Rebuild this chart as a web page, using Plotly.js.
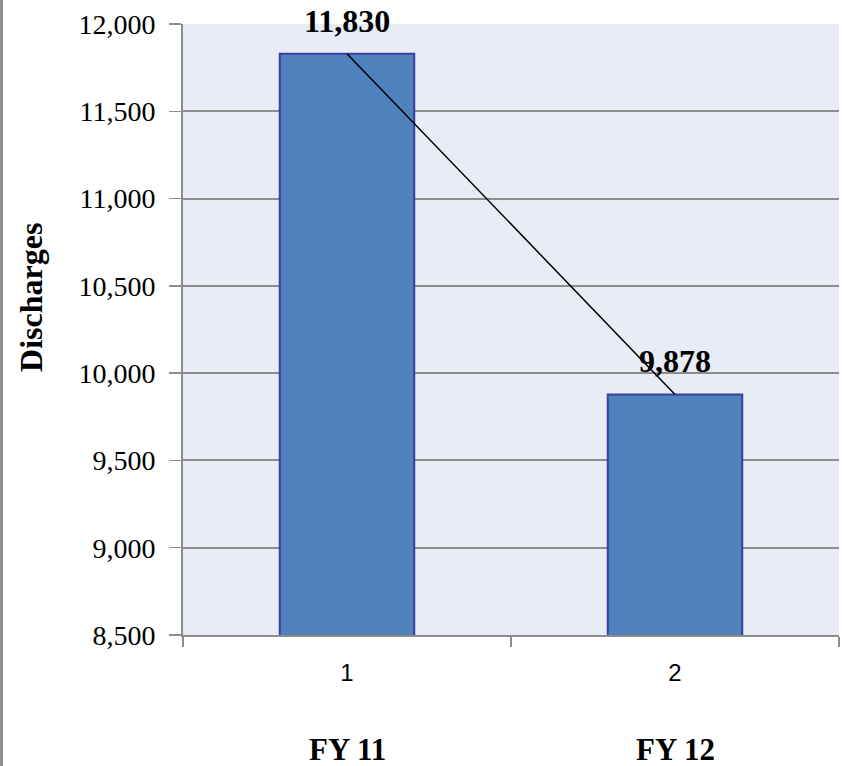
<!DOCTYPE html>
<html>
<head>
<meta charset="utf-8">
<script src="https://cdn.plot.ly/plotly-3.0.1.min.js"></script>
<style>
  html, body { margin: 0; padding: 0; background: #fff; }
  #wrap { position: relative; width: 842px; height: 766px; }
  #chart { width: 842px; height: 766px; }
  #edge { position: absolute; left: 0; top: 0; width: 3px; height: 766px; background: #8f8f8f; z-index: 5; }
</style>
</head>
<body>
<div id="wrap">
  <div id="chart"></div>
  <div id="edge"></div>
</div>
<script>
// ---- data ----
const categories = ["1", "2"];
const fiscalYears = ["FY 11", "FY 12"];
const discharges = [11830, 9878];
const yTickVals = [8500, 9000, 9500, 10000, 10500, 11000, 11500, 12000];

const serif = "Liberation Serif, Times New Roman, serif";

const bars = {
  type: "bar",
  x: categories,
  y: discharges,
  width: 0.41,
  marker: { color: "#4F81BD", line: { color: "#3A3FA0", width: 2 } },
  hoverinfo: "x+y",
  showlegend: false
};

const trend = {
  type: "scatter",
  mode: "lines",
  x: categories,
  y: discharges,
  line: { color: "#000000", width: 1.5 },
  hoverinfo: "skip",
  showlegend: false
};

const annotations = [];
categories.forEach((c, i) => {
  annotations.push({
    x: i, y: discharges[i], xref: "x", yref: "y",
    text: "<b>" + discharges[i].toLocaleString("en-US") + "</b>",
    showarrow: false, xanchor: "center", yanchor: "bottom", yshift: 13,
    font: { family: serif, size: 32, color: "#000" }
  });
  annotations.push({
    x: i, y: -0.188, xref: "x", yref: "paper",
    text: "<b>" + fiscalYears[i] + "</b>",
    showarrow: false, xanchor: "center", yanchor: "middle",
    font: { family: serif, size: 31, color: "#000" }
  });
});
annotations.push({
  x: -0.232, y: 0.553, xref: "paper", yref: "paper",
  text: "<b>Discharges</b>", textangle: -90,
  showarrow: false, xanchor: "center", yanchor: "middle",
  font: { family: serif, size: 32, color: "#000" }
});

const layout = {
  width: 842, height: 766,
  margin: { l: 183, r: 3, t: 24, b: 131 },
  paper_bgcolor: "#ffffff",
  plot_bgcolor: "#E8ECF4",
  xaxis: {
    type: "category",
    range: [-0.5, 1.5],
    tickson: "boundaries",
    ticks: "outside", ticklen: 10, tickwidth: 1.5, tickcolor: "#8c8c8c",
    showline: true, linecolor: "#8c8c8c", linewidth: 2,
    showgrid: false, zeroline: false,
    ticklabelstandoff: 15,
    tickfont: { family: "Liberation Sans, Arial, sans-serif", size: 24, color: "#000" },
    fixedrange: true
  },
  yaxis: {
    range: [8500, 12000],
    tickvals: yTickVals,
    tickformat: ",d",
    ticks: "outside", ticklen: 12, tickwidth: 1.5, tickcolor: "#8c8c8c",
    showline: true, linecolor: "#8c8c8c", linewidth: 2,
    showgrid: true, gridcolor: "#8c8c8c", gridwidth: 2,
    zeroline: false,
    ticklabelstandoff: 8,
    tickfont: { family: serif, size: 28, color: "#000" },
    fixedrange: true
  },
  annotations: annotations,
  showlegend: false
};

Plotly.newPlot("chart", [bars, trend], layout, { displayModeBar: false, staticPlot: true });
</script>
</body>
</html>
